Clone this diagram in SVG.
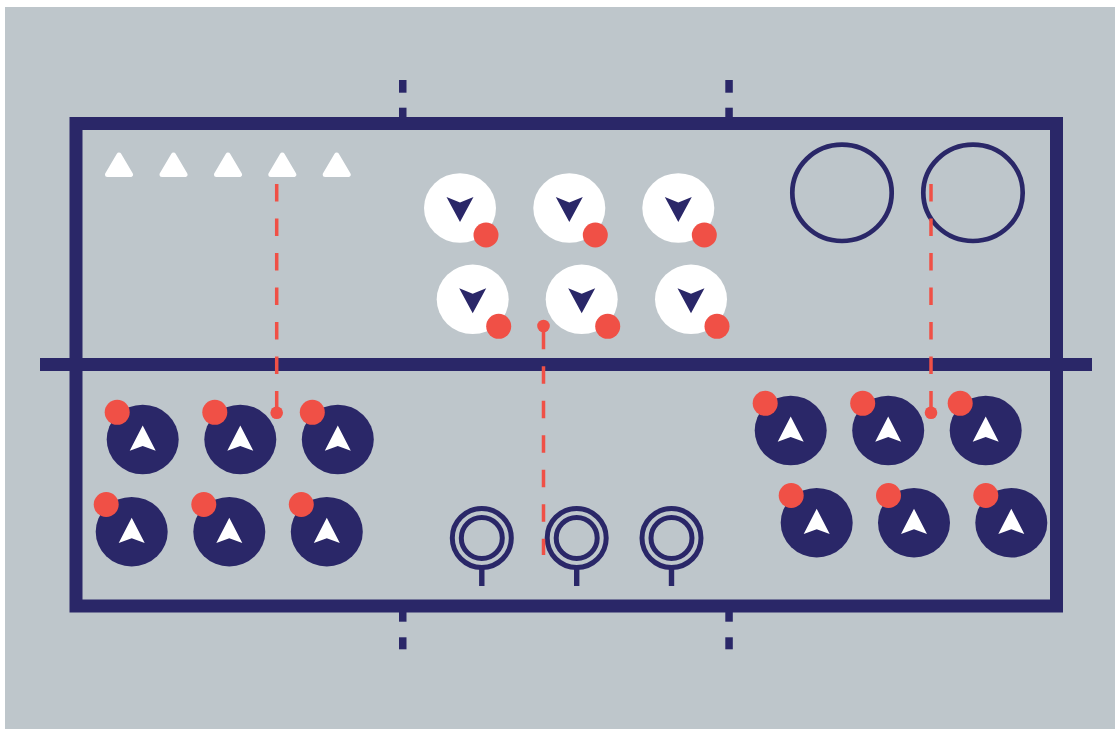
<svg xmlns="http://www.w3.org/2000/svg" width="1115" height="729" viewBox="0 0 1115 729">
  <style>
    .navy { fill: #2a2768; }
    .line { stroke: #2a2768; fill: none; }
    .red { fill: #f05046; }
    .cone { fill: #ffffff; stroke: #ffffff; stroke-width: 5; stroke-linejoin: round; }
    .path { stroke: #f05046; stroke-width: 3.5; stroke-dasharray: 17.5 17; fill: none; }
    .ring { stroke: #2a2768; stroke-width: 5; fill: none; }
  </style>
  <defs>
    <g id="defender">
      <ellipse cx="0" cy="0" rx="36" ry="34.8" fill="#ffffff"/>
      <polygon points="-13.5,-11 0,-5.5 13.5,-11 0,14" class="navy"/>
      <circle cx="26" cy="27" r="12.5" class="red"/>
    </g>
    <g id="attacker">
      <ellipse cx="0" cy="0" rx="36" ry="34.8" class="navy"/>
      <polygon points="0,-14 13,11.3 0,6.5 -13,11.3" fill="#ffffff"/>
      <circle cx="-25.5" cy="-27.2" r="12.5" class="red"/>
    </g>
    <g id="target">
      <circle cx="0" cy="0" r="29.5" class="ring"/>
      <circle cx="0" cy="0" r="20.5" class="ring"/>
      <rect x="-2.7" y="29" width="5.4" height="19" class="navy"/>
    </g>
  </defs>

  <rect x="5" y="7" width="1110" height="722" fill="#bec6cb"/>

  <g id="court">
    <rect x="76" y="123.5" width="980.5" height="482.5" class="line" stroke-width="13"/>
    <rect x="40" y="358" width="1052" height="13" class="navy"/>
    <rect x="399" y="80" width="7.5" height="12.7" class="navy"/>
    <rect x="399" y="107.7" width="7.5" height="12" class="navy"/>
    <rect x="725.3" y="80" width="7.5" height="12.7" class="navy"/>
    <rect x="725.3" y="107.7" width="7.5" height="12" class="navy"/>
    <rect x="399" y="610" width="7.5" height="11.7" class="navy"/>
    <rect x="399" y="637.3" width="7.5" height="12" class="navy"/>
    <rect x="725.3" y="610" width="7.5" height="11.7" class="navy"/>
    <rect x="725.3" y="637.3" width="7.5" height="12" class="navy"/>
  </g>

  <g id="cones">
    <polygon points="119,155 130.5,174.5 107.5,174.5" class="cone"/>
    <polygon points="173.5,155 185,174.5 162,174.5" class="cone"/>
    <polygon points="228,155 239.5,174.5 216.5,174.5" class="cone"/>
    <polygon points="282.3,155 293.8,174.5 270.8,174.5" class="cone"/>
    <polygon points="336.7,155 348.2,174.5 325.2,174.5" class="cone"/>
  </g>

  <g id="hoops">
    <ellipse cx="842" cy="192.8" rx="49.7" ry="48.2" class="line" stroke-width="4.7"/>
    <ellipse cx="973" cy="192.8" rx="49.7" ry="48.2" class="line" stroke-width="4.7"/>
  </g>

  <g id="defenders">
    <use href="#defender" x="460" y="208"/>
    <use href="#defender" x="569.3" y="208"/>
    <use href="#defender" x="678.3" y="208"/>
    <use href="#defender" x="472.7" y="299.3"/>
    <use href="#defender" x="581.7" y="299.3"/>
    <use href="#defender" x="691" y="299.3"/>
  </g>

  <g id="attackers-left">
    <use href="#attacker" x="142.7" y="439.5"/>
    <use href="#attacker" x="240.3" y="439.5"/>
    <use href="#attacker" x="337.8" y="439.5"/>
    <use href="#attacker" x="131.7" y="531.7"/>
    <use href="#attacker" x="229.3" y="531.7"/>
    <use href="#attacker" x="326.8" y="531.7"/>
  </g>

  <g id="attackers-right">
    <use href="#attacker" x="790.7" y="430.5"/>
    <use href="#attacker" x="888.2" y="430.5"/>
    <use href="#attacker" x="985.7" y="430.5"/>
    <use href="#attacker" x="816.7" y="522.7"/>
    <use href="#attacker" x="914" y="522.7"/>
    <use href="#attacker" x="1011.3" y="522.7"/>
  </g>

  <g id="targets">
    <use href="#target" x="481.8" y="538"/>
    <use href="#target" x="576.7" y="538"/>
    <use href="#target" x="671.5" y="538"/>
  </g>

  <g id="connectors">
    <line x1="276.7" y1="184" x2="276.7" y2="412.7" class="path"/>
    <circle cx="276.7" cy="412.7" r="6.3" class="red"/>
    <line x1="931" y1="184" x2="931" y2="412.7" class="path"/>
    <circle cx="931" cy="412.7" r="6.3" class="red"/>
    <line x1="543.5" y1="331.7" x2="543.5" y2="555" class="path" stroke-dasharray="17.3 17"/>
    <circle cx="543.5" cy="326" r="6.3" class="red"/>
  </g>
</svg>
